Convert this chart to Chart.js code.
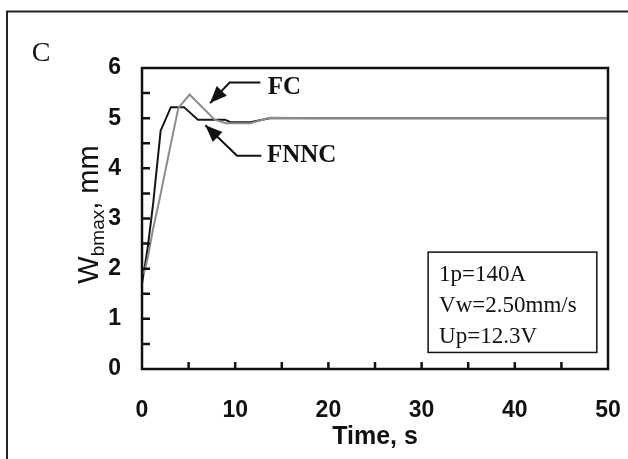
<!DOCTYPE html>
<html>
<head>
<meta charset="utf-8">
<script src="https://cdn.jsdelivr.net/npm/chart.js@4.4.1/dist/chart.umd.min.js"></script>
<style>
  html, body { margin: 0; padding: 0; background: #fff; }
  #wrap { width: 628px; height: 459px; position: relative; }
</style>
</head>
<body>
<div id="wrap"><canvas id="chart" width="628" height="459"></canvas></div>
<script>
// FC response (gray curve)
const fcTime  = [0.2, 0.6, 1.2, 1.9, 3.0, 3.9, 5.1, 7.8, 9.0, 11.6, 13.7, 20, 30, 40, 50]
const fcWidth = [1.9, 2.2, 2.8, 3.4, 4.4, 5.2, 5.47, 4.97, 4.9, 4.9, 5.01, 5.0, 5.0, 5.0, 5.0]

// FNNC response (black curve)
const fnncTime  = [0, 0.6, 1.2, 2.0, 3.1, 4.5, 6.0, 8.9, 9.5, 11.6, 13.7, 20, 30, 40, 50]
const fnncWidth = [1.7, 2.4, 3.3, 4.75, 5.22, 5.22, 4.97, 4.97, 4.92, 4.92, 5.0, 5.0, 5.0, 5.0, 5.0]

// axis ticks
const xLabelTicks = [0, 10, 20, 30, 40, 50]
const xMarkTicks = [5, 10, 15, 20, 25, 30, 35, 40, 45]
const yLabelTicks = [0, 1, 2, 3, 4, 5, 6]
const yMarkTicks = [0.5, 1, 1.5, 2, 2.5, 3, 3.5, 4, 4.5, 5, 5.5]

// text
const panelLabel = 'C'
const boxLines = ['1p=140A', 'Vw=2.50mm/s', 'Up=12.3V']

const toPoints = (xs, ys) => xs.map((x, i) => ({ x: x, y: ys[i] }))

//draws the frame, inner ticks, titles and annotations
const decorations = {
    id: 'decorations',
    beforeDraw(chart) {
        const ctx = chart.ctx
        ctx.save()
        ctx.fillStyle = '#fff'
        ctx.fillRect(0, 0, chart.width, chart.height)
        //outer figure frame
        ctx.strokeStyle = '#222'
        ctx.lineWidth = 2
        ctx.strokeRect(7, 11.5, 700, 600)
        //panel letter
        ctx.fillStyle = '#111'
        ctx.font = '28px "Liberation Serif", "Times New Roman", serif'
        ctx.textAlign = 'center'
        ctx.textBaseline = 'middle'
        ctx.fillText(panelLabel, 41, 54)
        ctx.restore()
    },
    afterDatasetsDraw(chart) {
        const { ctx, chartArea: a, scales: { x, y } } = chart
        const px = v => x.getPixelForValue(v)
        const py = v => y.getPixelForValue(v)
        ctx.save()
        ctx.strokeStyle = '#111'
        ctx.fillStyle = '#111'

        //plot frame
        ctx.lineWidth = 2.5
        ctx.strokeRect(a.left, a.top, a.right - a.left, a.bottom - a.top)

        //inward ticks
        ctx.beginPath()
        yMarkTicks.forEach(v => {
            ctx.moveTo(a.left, py(v))
            ctx.lineTo(a.left + 8, py(v))
        })
        xMarkTicks.forEach(v => {
            ctx.moveTo(px(v), a.bottom)
            ctx.lineTo(px(v), a.bottom - 7)
        })
        ctx.stroke()

        //x title
        ctx.font = 'bold 25px "Liberation Sans", Arial, sans-serif'
        ctx.textAlign = 'center'
        ctx.textBaseline = 'middle'
        ctx.fillText('Time, s', (a.left + a.right) / 2, 437)

        //y title with subscript
        const mainFont = '29px "Liberation Sans", Arial, sans-serif'
        const subFont = '19px "Liberation Sans", Arial, sans-serif'
        ctx.font = mainFont
        const wW = ctx.measureText('W').width
        const wTail = ctx.measureText(', mm').width
        ctx.font = subFont
        const wSub = ctx.measureText('bmax').width
        const total = wW + wSub + wTail
        ctx.translate(98, (a.top + a.bottom) / 2 - 4)
        ctx.rotate(-Math.PI / 2)
        ctx.textAlign = 'left'
        ctx.textBaseline = 'alphabetic'
        let cx = -total / 2
        ctx.font = mainFont
        ctx.fillText('W', cx, 0)
        cx += wW
        ctx.font = subFont
        ctx.fillText('bmax', cx, 6)
        cx += wSub
        ctx.font = mainFont
        ctx.fillText(', mm', cx, 0)
        ctx.setTransform(1, 0, 0, 1, 0, 0)

        //arrows with labels
        const arrow = (pts, label, tx, ty) => {
            ctx.lineWidth = 2
            ctx.beginPath()
            ctx.moveTo(px(pts[0][0]), py(pts[0][1]))
            for (let i = 1; i < pts.length; i++) ctx.lineTo(px(pts[i][0]), py(pts[i][1]))
            ctx.stroke()
            const [bx, by] = [px(pts[pts.length - 2][0]), py(pts[pts.length - 2][1])]
            const [ex, ey] = [px(pts[pts.length - 1][0]), py(pts[pts.length - 1][1])]
            const ang = Math.atan2(ey - by, ex - bx)
            const len = 17, half = 7
            ctx.beginPath()
            ctx.moveTo(ex, ey)
            ctx.lineTo(ex - len * Math.cos(ang) + half * Math.sin(ang), ey - len * Math.sin(ang) - half * Math.cos(ang))
            ctx.lineTo(ex - len * Math.cos(ang) - half * Math.sin(ang), ey - len * Math.sin(ang) + half * Math.cos(ang))
            ctx.closePath()
            ctx.fill()
            ctx.font = 'bold 25px "Liberation Serif", "Times New Roman", serif'
            ctx.textAlign = 'left'
            ctx.textBaseline = 'middle'
            ctx.fillText(label, px(tx), py(ty))
        }
        arrow([[12.7, 5.71], [9.4, 5.71], [7.3, 5.30]], 'FC', 13.5, 5.62)
        arrow([[12.8, 4.25], [10.2, 4.25], [6.8, 4.86]], 'FNNC', 13.4, 4.26)

        //parameter box
        const bx0 = px(30.7), bx1 = px(48.8), by0 = py(2.33), by1 = py(0.33)
        ctx.lineWidth = 1.5
        ctx.fillStyle = '#fff'
        ctx.fillRect(bx0, by0, bx1 - bx0, by1 - by0)
        ctx.strokeRect(bx0, by0, bx1 - bx0, by1 - by0)
        ctx.fillStyle = '#111'
        ctx.font = '23px "Liberation Serif", "Times New Roman", serif'
        ctx.textBaseline = 'alphabetic'
        boxLines.forEach((t, i) => ctx.fillText(t, bx0 + 11, by0 + 29 + i * 31))
        ctx.restore()
    }
}

const tickFont = { family: '"Liberation Sans", Arial, sans-serif', size: 23, weight: 'bold' }

new Chart(document.getElementById('chart').getContext('2d'), {
    type: 'line',
    data: {
        datasets: [
            {
                label: 'FC',
                data: toPoints(fcTime, fcWidth),
                borderColor: '#8c8c8c',
                borderWidth: 2,
                pointRadius: 0,
                tension: 0
            },
            {
                label: 'FNNC',
                data: toPoints(fnncTime, fnncWidth),
                borderColor: '#151515',
                borderWidth: 2,
                pointRadius: 0,
                tension: 0
            }
        ]
    },
    options: {
        responsive: false,
        animation: false,
        layout: { padding: { top: 68, right: 20, bottom: 0, left: 0 } },
        plugins: { legend: { display: false }, tooltip: { enabled: false } },
        scales: {
            x: {
                type: 'linear',
                min: 0,
                max: 50,
                grid: { display: false, drawTicks: false },
                border: { display: false },
                afterBuildTicks: s => { s.ticks = xLabelTicks.map(v => ({ value: v })) },
                afterFit: s => { s.height = 90; s.paddingLeft = 0; s.paddingRight = 0 },
                ticks: { font: tickFont, color: '#111', padding: 28, maxRotation: 0 }
            },
            y: {
                min: 0,
                max: 6,
                grid: { display: false, drawTicks: false },
                border: { display: false },
                afterBuildTicks: s => { s.ticks = yLabelTicks.map(v => ({ value: v })) },
                afterFit: s => { s.width = 142; s.paddingTop = 0; s.paddingBottom = 0 },
                ticks: { font: tickFont, color: '#111', padding: 21 }
            }
        }
    },
    plugins: [decorations]
})
</script>
</body>
</html>
